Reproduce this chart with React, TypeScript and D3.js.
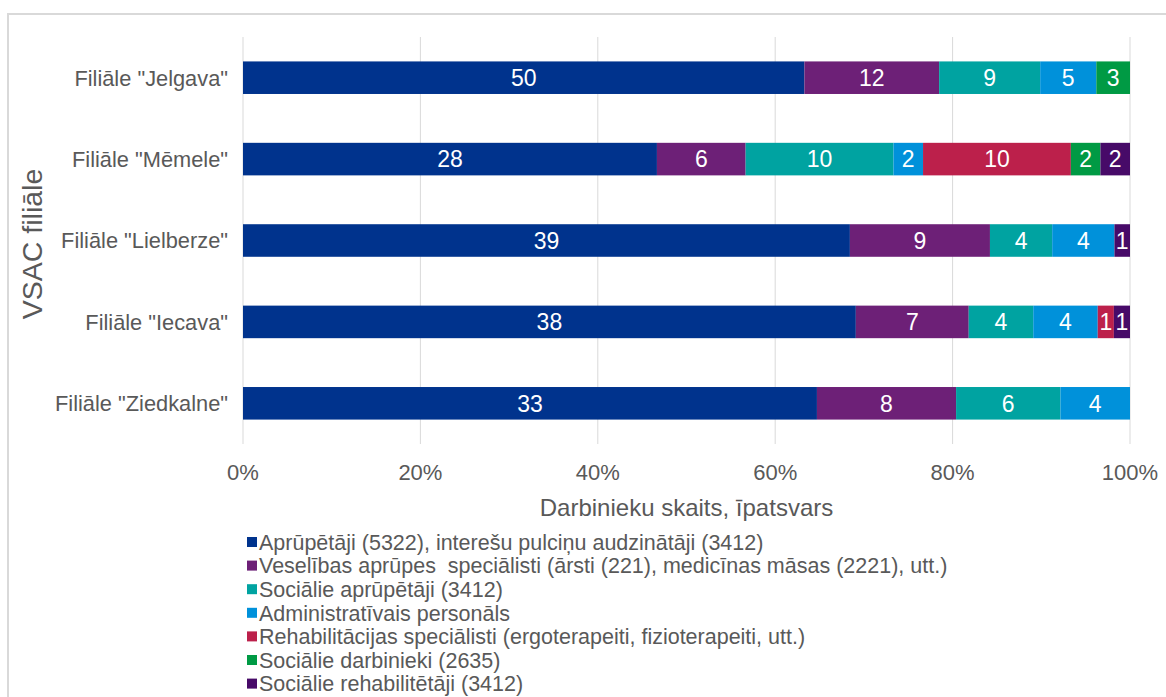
import React from 'react';
import * as d3 from 'd3';

const branches = [
  'Filiāle "Jelgava"',
  'Filiāle "Mēmele"',
  'Filiāle "Lielberze"',
  'Filiāle "Iecava"',
  'Filiāle "Ziedkalne"',
];

const groups = [
  'Aprūpētāji (5322), interešu pulciņu audzinātāji (3412)',
  'Veselības aprūpes  speciālisti (ārsti (221), medicīnas māsas (2221), utt.)',
  'Sociālie aprūpētāji (3412)',
  'Administratīvais personāls',
  'Rehabilitācijas speciālisti (ergoterapeiti, fizioterapeiti, utt.)',
  'Sociālie darbinieki (2635)',
  'Sociālie rehabilitētāji (3412)',
];

const colors = ['#00338D', '#6D2077', '#00A3A1', '#0091DA', '#BC204B', '#009A44', '#470A68'];

// values per branch, in order of groups
const carers = [50, 28, 39, 38, 33];
const health = [12, 6, 9, 7, 8];
const socialCarers = [9, 10, 4, 4, 6];
const admin = [5, 2, 4, 4, 4];
const rehab = [0, 10, 0, 1, 0];
const socialWorkers = [3, 2, 0, 0, 0];
const socialRehab = [0, 2, 1, 1, 0];

const series = [carers, health, socialCarers, admin, rehab, socialWorkers, socialRehab];
const tickValues = [0, 0.2, 0.4, 0.6, 0.8, 1];

const W = 1166;
const H = 697;
const plot = { left: 243, right: 1130, top: 37, bottom: 444 };
const textColor = '#595959';
const font = '"Liberation Sans", Arial, sans-serif';

export default function App() {
  const rows = branches.map((b, i) => {
    const r: any = { branch: b };
    groups.forEach((g, k) => (r[g] = series[k][i]));
    return r;
  });

  const stacked = d3.stack<any>().keys(groups).offset(d3.stackOffsetExpand)(rows);

  const x = d3.scaleLinear().domain([0, 1]).range([plot.left, plot.right]);
  const y = d3.scaleBand().domain(branches).range([plot.top, plot.bottom]).paddingInner(0.6).paddingOuter(0.3);

  return (
    <svg width={W} height={H} style={{ position: 'absolute', left: 0, top: 0, background: '#fff' }} fontFamily={font}>
      <rect x={0} y={0} width={W} height={H} fill="#fff" />
      <rect x={8} y={14} width={W + 20} height={H + 20} fill="none" stroke="#d9d9d9" strokeWidth={2} />

      {/* gridlines */}
      {tickValues.map((t) => (
        <line key={t} x1={x(t)} x2={x(t)} y1={plot.top} y2={plot.bottom} stroke="#d9d9d9" strokeWidth={1} />
      ))}

      {/* bars */}
      {stacked.map((s, k) => (
        <g key={s.key} fill={colors[k]}>
          {s.map((d: any, i: number) => {
            const v = series[k][i];
            if (!v) return null;
            const x0 = x(d[0]);
            const x1 = x(d[1]);
            const yy = y(branches[i])!;
            return (
              <g key={i}>
                <rect x={x0} y={yy} width={x1 - x0} height={y.bandwidth()} />
                <text
                  x={(x0 + x1) / 2}
                  y={yy + y.bandwidth() / 2}
                  dy="0.36em"
                  textAnchor="middle"
                  fill="#fff"
                  fontSize={23}
                >
                  {v}
                </text>
              </g>
            );
          })}
        </g>
      ))}

      {/* category labels */}
      {branches.map((b) => (
        <text key={b} x={228} y={y(b)! + y.bandwidth() / 2} dy="0.36em" textAnchor="end" fill={textColor} fontSize={21.8}>
          {b}
        </text>
      ))}

      {/* x ticks */}
      {tickValues.map((t) => (
        <text key={t} x={x(t)} y={480} textAnchor="middle" fill={textColor} fontSize={22}>
          {d3.format('.0%')(t)}
        </text>
      ))}

      <text x={(plot.left + plot.right) / 2} y={516} textAnchor="middle" fill={textColor} fontSize={24}>
        Darbinieku skaits, īpatsvars
      </text>

      <text transform={`translate(42,244) rotate(-90)`} textAnchor="middle" fill={textColor} fontSize={28.5}>
        VSAC filiāle
      </text>

      {/* legend */}
      {groups.map((g, k) => (
        <g key={g} transform={`translate(247,${542 + k * 23.6})`}>
          <rect x={0} y={-5} width={10} height={10} fill={colors[k]} />
          <text x={12} y={0} dy="0.36em" fill={textColor} fontSize={21.5} style={{ whiteSpace: 'pre' }}>
            {g}
          </text>
        </g>
      ))}
    </svg>
  );
}
